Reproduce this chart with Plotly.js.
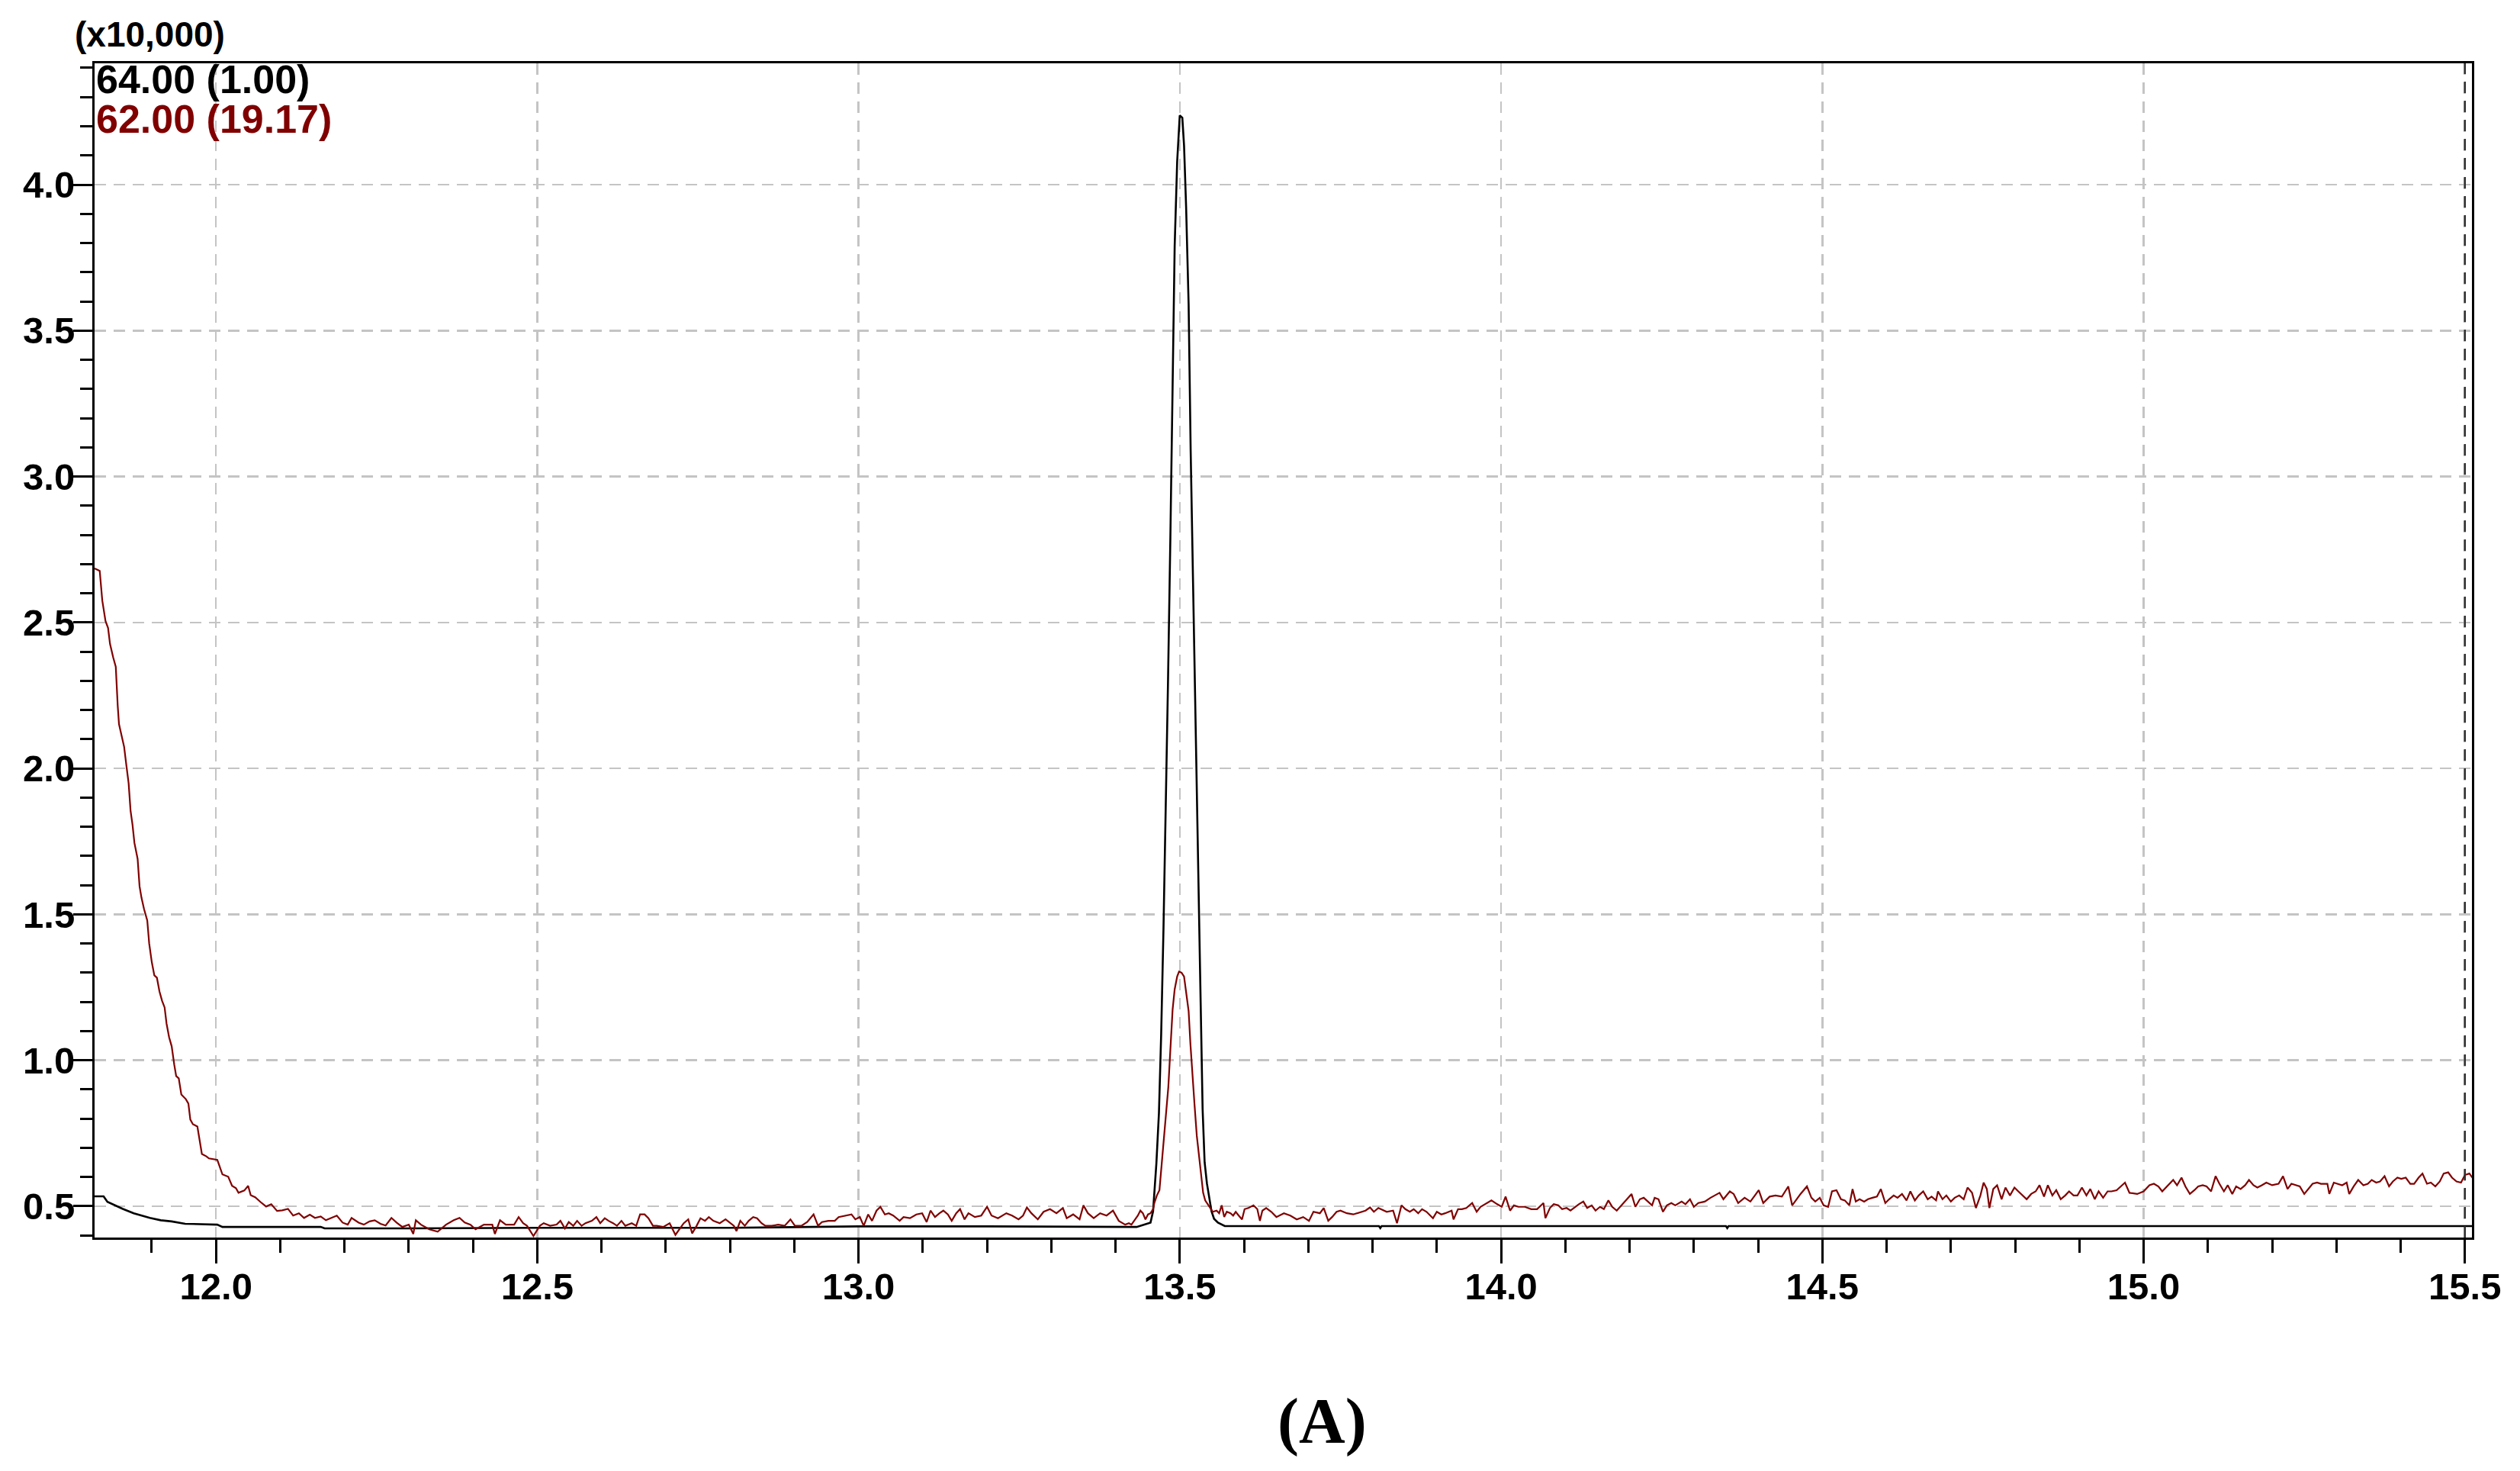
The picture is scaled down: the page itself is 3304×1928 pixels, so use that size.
<!DOCTYPE html>
<html>
<head>
<meta charset="utf-8">
<script src="https://cdn.plot.ly/plotly-3.0.1.min.js"></script>
<style>
  html, body { margin: 0; padding: 0; background: #fff; }
  #chart { width: 3304px; height: 1928px; }
</style>
</head>
<body>
<div id="chart"></div>
<script>
// retention time (min) and intensity (x10,000)
const t64 = [11.811, 11.825, 11.831, 11.843, 11.855, 11.872, 11.885, 11.897, 11.914, 11.931, 11.952, 12.002, 12.010,
	12.163, 12.169, 12.300, 12.500, 12.800, 13.000, 13.200, 13.4327, 13.4544, 13.4584, 13.4603, 13.4635, 13.4675,
	13.4710, 13.4746, 13.4782, 13.4817, 13.4853, 13.4888, 13.4920, 13.4959, 13.4999, 13.5039, 13.5066, 13.5098,
	13.5137, 13.5169, 13.5205, 13.5244, 13.5276, 13.5315, 13.5355, 13.5386, 13.5422, 13.5462, 13.5493, 13.5533,
	13.5593, 13.5700, 13.8100, 13.8120, 13.8140, 14.3500, 14.3520, 14.3540, 15.5110];
const y64 = [0.534, 0.534, 0.515, 0.502, 0.491, 0.476, 0.468, 0.460, 0.452, 0.448, 0.440, 0.437, 0.429,
	0.429, 0.424, 0.424, 0.426, 0.426, 0.431, 0.431, 0.429, 0.444, 0.483, 0.548, 0.646, 0.819,
	1.090, 1.452, 1.852, 2.305, 2.790, 3.364, 3.790, 4.079, 4.237, 4.229, 4.134, 3.924,
	3.591, 3.087, 2.671, 2.227, 1.783, 1.310, 0.832, 0.651, 0.578, 0.522, 0.483, 0.457,
	0.444, 0.432, 0.432, 0.425, 0.432, 0.432, 0.425, 0.432, 0.432];

const t62 = [
	11.811, 11.819, 11.823, 11.828, 11.832, 11.835, 11.840, 11.844, 11.847, 11.849, 11.853, 11.857, 11.860, 11.864,
	11.867, 11.870, 11.873, 11.878, 11.881, 11.884, 11.888, 11.893, 11.896, 11.900, 11.904, 11.908, 11.912, 11.916,
	11.920, 11.923, 11.927, 11.931, 11.935, 11.938, 11.942, 11.946, 11.953, 11.957, 11.960, 11.964, 11.971, 11.975,
	11.978, 11.985, 11.989, 12.002, 12.006, 12.010, 12.019, 12.025, 12.031, 12.035, 12.044, 12.050, 12.054, 12.061,
	12.069, 12.078, 12.086, 12.095, 12.103, 12.112, 12.120, 12.129, 12.137, 12.146, 12.154, 12.163, 12.171, 12.180,
	12.188, 12.197, 12.205, 12.211, 12.222, 12.230, 12.239, 12.247, 12.256, 12.264, 12.273, 12.281, 12.290, 12.300,
	12.307, 12.311, 12.319, 12.332, 12.345, 12.358, 12.370, 12.379, 12.387, 12.396, 12.404, 12.417, 12.430, 12.434,
	12.442, 12.451, 12.464,
	12.471, 12.478, 12.484, 12.494, 12.504, 12.510, 12.520, 12.530, 12.536, 12.543, 12.549, 12.556, 12.562, 12.569,
	12.575, 12.585, 12.592, 12.598, 12.605, 12.611, 12.618, 12.624, 12.631, 12.637, 12.647, 12.654, 12.660, 12.667,
	12.673, 12.680, 12.686, 12.696, 12.706, 12.715, 12.722, 12.728, 12.735, 12.741, 12.748, 12.754, 12.761, 12.767,
	12.774, 12.784, 12.793, 12.800, 12.806, 12.810, 12.816, 12.823, 12.829, 12.836, 12.842, 12.849, 12.855, 12.865,
	12.875, 12.885, 12.894, 12.901, 12.911, 12.920, 12.930, 12.937, 12.943, 12.953, 12.963, 12.969, 12.979, 12.989,
	12.995, 13.002, 13.008, 13.015, 13.021, 13.028, 13.034, 13.041, 13.047, 13.054, 13.064, 13.070, 13.080, 13.090,
	13.099, 13.106, 13.112, 13.119, 13.126, 13.132, 13.139, 13.145, 13.152, 13.158, 13.165, 13.171, 13.181, 13.191,
	13.200, 13.207, 13.217, 13.230, 13.239, 13.249, 13.256, 13.262, 13.269, 13.279, 13.288, 13.298, 13.308, 13.318,
	13.324, 13.334, 13.344, 13.350, 13.357, 13.366, 13.376, 13.386, 13.396, 13.405, 13.415,
	13.4208, 13.4247, 13.4287, 13.4347, 13.4386, 13.4425, 13.4465, 13.4505, 13.4544, 13.4584, 13.4603, 13.4643,
	13.4683, 13.4710, 13.4742, 13.4782, 13.4821, 13.4849, 13.4888, 13.4920, 13.4959, 13.4988, 13.5027, 13.5066,
	13.5098, 13.5137, 13.5165, 13.5197, 13.5228, 13.5264, 13.5296, 13.5335, 13.5363, 13.5395, 13.5434, 13.5466,
	13.5513, 13.5573, 13.5612, 13.5652, 13.5691, 13.5731, 13.5790, 13.5830, 13.5870, 13.5917, 13.5968, 13.6008,
	13.6067, 13.6146, 13.6206, 13.6246, 13.6285, 13.6344, 13.6424, 13.6503, 13.6582,
	13.662, 13.672, 13.682, 13.692, 13.701, 13.708, 13.718, 13.724, 13.731, 13.737, 13.744, 13.750, 13.760, 13.770,
	13.780, 13.789, 13.796, 13.802, 13.809, 13.815, 13.822, 13.832, 13.838, 13.845, 13.851, 13.858, 13.864, 13.871,
	13.877, 13.884, 13.894, 13.900, 13.907, 13.913, 13.923, 13.926, 13.933, 13.939, 13.946, 13.955, 13.962, 13.968,
	13.975, 13.985, 13.994, 14.001, 14.007, 14.014, 14.020, 14.027, 14.037, 14.047, 14.056, 14.066, 14.069, 14.076,
	14.082, 14.089, 14.095, 14.102, 14.108, 14.115, 14.121, 14.128, 14.134, 14.141, 14.147, 14.154, 14.160, 14.167,
	14.173, 14.180, 14.187, 14.193, 14.203, 14.209, 14.216, 14.222, 14.229, 14.235, 14.239, 14.245, 14.252, 14.258,
	14.265, 14.271, 14.281, 14.287, 14.294, 14.300, 14.307, 14.317, 14.326, 14.333, 14.340, 14.346, 14.356, 14.362,
	14.369, 14.379, 14.388, 14.395, 14.401, 14.408, 14.418, 14.427, 14.437, 14.447, 14.453, 14.460, 14.466, 14.476,
	14.483,
	14.489, 14.496, 14.502, 14.509, 14.515, 14.522, 14.529, 14.535, 14.542, 14.547, 14.552, 14.558, 14.565, 14.571,
	14.578, 14.585, 14.591, 14.598, 14.604, 14.611, 14.617, 14.624, 14.631, 14.637, 14.644, 14.650, 14.657, 14.664,
	14.670, 14.677, 14.680, 14.687, 14.693, 14.700, 14.706, 14.713, 14.720, 14.726, 14.733, 14.739, 14.746, 14.751,
	14.756, 14.760, 14.766, 14.772, 14.779, 14.785, 14.792, 14.799, 14.805, 14.812, 14.818, 14.825, 14.832, 14.838,
	14.845, 14.851, 14.858, 14.864, 14.871, 14.878, 14.884, 14.891, 14.897, 14.904, 14.911, 14.917, 14.924, 14.930,
	14.937, 14.944, 14.950, 14.958, 14.965, 14.971, 14.978, 14.990, 15.000, 15.009, 15.016, 15.023, 15.029, 15.036,
	15.046, 15.052, 15.059, 15.065, 15.072, 15.079, 15.085, 15.092, 15.098, 15.105, 15.112, 15.118, 15.125, 15.131,
	15.138, 15.144, 15.151, 15.158, 15.164, 15.171, 15.177, 15.184, 15.191, 15.200, 15.210, 15.217, 15.224, 15.230,
	15.237, 15.243, 15.250, 15.256, 15.263, 15.270, 15.276, 15.286, 15.289, 15.296, 15.303, 15.309, 15.316, 15.320,
	15.327, 15.334, 15.342, 15.349, 15.355, 15.362, 15.368, 15.375, 15.382, 15.388, 15.395, 15.401, 15.408, 15.415,
	15.421, 15.428, 15.434, 15.441, 15.447, 15.454, 15.461, 15.467, 15.474, 15.480, 15.487, 15.494, 15.500, 15.507,
	15.513];
const y62 = [
	2.685, 2.677, 2.575, 2.505, 2.481, 2.427, 2.380, 2.348, 2.215, 2.152, 2.113, 2.074, 2.019, 1.949,
	1.855, 1.808, 1.745, 1.690, 1.596, 1.557, 1.518, 1.479, 1.400, 1.337, 1.291, 1.283, 1.236, 1.204,
	1.181, 1.126, 1.079, 1.048, 0.985, 0.946, 0.938, 0.883, 0.867, 0.852, 0.797, 0.781, 0.773, 0.719,
	0.679, 0.671, 0.664, 0.659, 0.633, 0.609, 0.601, 0.570, 0.562, 0.546, 0.554, 0.570, 0.538, 0.531,
	0.515, 0.499, 0.507, 0.484, 0.486, 0.491, 0.468, 0.476, 0.460, 0.471, 0.460, 0.465, 0.452, 0.460,
	0.468, 0.444, 0.437, 0.460, 0.444, 0.437, 0.448, 0.452, 0.440, 0.434, 0.460, 0.444, 0.429, 0.437,
	0.405, 0.452, 0.437, 0.421, 0.413, 0.437, 0.452, 0.460, 0.444, 0.437, 0.421, 0.437, 0.437, 0.405,
	0.452, 0.437, 0.437,
	0.463, 0.442, 0.433, 0.398, 0.433, 0.442, 0.433, 0.437, 0.450, 0.424, 0.446, 0.433, 0.450, 0.433,
	0.442, 0.450, 0.463, 0.442, 0.459, 0.450, 0.442, 0.433, 0.450, 0.433, 0.442, 0.433, 0.472, 0.472,
	0.459, 0.433, 0.433, 0.429, 0.442, 0.402, 0.424, 0.442, 0.455, 0.407, 0.433, 0.459, 0.450, 0.463,
	0.450, 0.442, 0.455, 0.442, 0.433, 0.415, 0.450, 0.433, 0.450, 0.463, 0.459, 0.442, 0.433, 0.433,
	0.437, 0.433, 0.455, 0.433, 0.433, 0.446, 0.472, 0.433, 0.446, 0.450, 0.450, 0.463, 0.468, 0.472,
	0.455, 0.463, 0.433, 0.472, 0.450, 0.485, 0.498, 0.472, 0.476, 0.468, 0.450, 0.463, 0.459, 0.472,
	0.476, 0.446, 0.485, 0.463, 0.476, 0.485, 0.472, 0.450, 0.476, 0.490, 0.455, 0.476, 0.463, 0.468,
	0.498, 0.468, 0.459, 0.476, 0.468, 0.455, 0.468, 0.496, 0.476, 0.455, 0.481, 0.490, 0.476, 0.494,
	0.459, 0.472, 0.455, 0.503, 0.476, 0.459, 0.476, 0.468, 0.485, 0.450, 0.437,
	0.442, 0.437, 0.450, 0.468, 0.485, 0.476, 0.455, 0.472, 0.476, 0.490, 0.511, 0.537,
	0.555, 0.625, 0.703, 0.821, 0.908, 1.021, 1.174, 1.243, 1.287, 1.304, 1.300, 1.287,
	1.239, 1.169, 1.056, 0.964, 0.851, 0.742, 0.681, 0.599, 0.546, 0.520, 0.507, 0.494,
	0.481, 0.485, 0.476, 0.503, 0.463, 0.481, 0.476, 0.468, 0.481, 0.468, 0.455, 0.490,
	0.494, 0.503, 0.490, 0.450, 0.485, 0.494, 0.481, 0.463, 0.472,
	0.476, 0.468, 0.455, 0.463, 0.450, 0.481, 0.476, 0.494, 0.450, 0.463, 0.481, 0.485, 0.476, 0.472,
	0.478, 0.485, 0.496, 0.481, 0.494, 0.487, 0.481, 0.485, 0.442, 0.503, 0.490, 0.481, 0.490, 0.476,
	0.490, 0.481, 0.459, 0.481, 0.472, 0.476, 0.485, 0.455, 0.490, 0.490, 0.494, 0.511, 0.481, 0.498,
	0.507, 0.520, 0.507, 0.498, 0.533, 0.485, 0.503, 0.498, 0.498, 0.490, 0.490, 0.511, 0.459, 0.494,
	0.507, 0.503, 0.490, 0.494, 0.485, 0.498, 0.507, 0.516, 0.494, 0.503, 0.485, 0.498, 0.490, 0.520,
	0.498, 0.485, 0.503, 0.516, 0.542, 0.498, 0.524, 0.529, 0.516, 0.503, 0.529, 0.524, 0.481, 0.503,
	0.511, 0.503, 0.516, 0.507, 0.524, 0.498, 0.511, 0.516, 0.529, 0.537, 0.546, 0.524, 0.551, 0.542,
	0.511, 0.529, 0.516, 0.537, 0.555, 0.511, 0.533, 0.537, 0.533, 0.568, 0.503, 0.524, 0.542, 0.568,
	0.529,
	0.516, 0.529, 0.503, 0.498, 0.551, 0.555, 0.524, 0.520, 0.503, 0.559, 0.516, 0.524, 0.516, 0.524,
	0.529, 0.533, 0.559, 0.511, 0.524, 0.537, 0.529, 0.542, 0.520, 0.551, 0.520, 0.537, 0.551, 0.524,
	0.533, 0.520, 0.551, 0.524, 0.537, 0.516, 0.529, 0.537, 0.524, 0.564, 0.546, 0.494, 0.537, 0.581,
	0.559, 0.494, 0.559, 0.572, 0.524, 0.564, 0.537, 0.564, 0.551, 0.537, 0.524, 0.542, 0.551, 0.572,
	0.533, 0.572, 0.537, 0.555, 0.524, 0.537, 0.551, 0.537, 0.537, 0.564, 0.537, 0.559, 0.524, 0.551,
	0.529, 0.551, 0.551, 0.555, 0.568, 0.581, 0.546, 0.542, 0.551, 0.572, 0.577, 0.568, 0.551, 0.568,
	0.590, 0.572, 0.598, 0.568, 0.542, 0.555, 0.568, 0.572, 0.568, 0.551, 0.603, 0.577, 0.551, 0.572,
	0.542, 0.568, 0.559, 0.572, 0.590, 0.572, 0.564, 0.572, 0.581, 0.572, 0.577, 0.603, 0.559, 0.577,
	0.572, 0.568, 0.542, 0.559, 0.577, 0.581, 0.577, 0.577, 0.542, 0.581, 0.577, 0.572, 0.581, 0.542,
	0.568, 0.590, 0.572, 0.577, 0.590, 0.581, 0.585, 0.603, 0.568, 0.585, 0.598, 0.594, 0.598, 0.577,
	0.577, 0.598, 0.612, 0.577, 0.581, 0.568, 0.585, 0.612, 0.616, 0.598, 0.585, 0.581, 0.607, 0.612,
	0.594];

const xTicks = [12.0, 12.5, 13.0, 13.5, 14.0, 14.5, 15.0, 15.5];
const xTickText = ['12.0', '12.5', '13.0', '13.5', '14.0', '14.5', '15.0', '15.5'];
const yTicks = [0.5, 1.0, 1.5, 2.0, 2.5, 3.0, 3.5, 4.0];
const yTickText = ['0.5', '1.0', '1.5', '2.0', '2.5', '3.0', '3.5', '4.0'];

const scaleLabel = '(x10,000)';
const ion64Label = '64.00 (1.00)';
const ion62Label = '62.00 (19.17)';
const panelLabel = '(A)';

const black = '#000000';
const darkRed = '#800000';
const labelFont = 'Liberation Sans, Arial, sans-serif';

const tickFont = { family: labelFont, size: 49, weight: 'bold', color: black };

const traces = [
	{ x: t64, y: y64, type: 'scatter', mode: 'lines', line: { color: black, width: 2.6 }, hoverinfo: 'skip' },
	{ x: t62, y: y62, type: 'scatter', mode: 'lines', line: { color: darkRed, width: 2.2 }, hoverinfo: 'skip' }
];

const layout = {
	width: 3304,
	height: 1928,
	margin: { l: 124, r: 63, t: 83, b: 306 },
	paper_bgcolor: '#ffffff',
	plot_bgcolor: '#ffffff',
	showlegend: false,
	xaxis: {
		range: [11.811, 15.511],
		tickmode: 'array',
		tickvals: xTicks,
		ticktext: xTickText,
		ticks: 'outside',
		ticklen: 31,
		tickwidth: 3,
		tickcolor: black,
		tickfont: tickFont,
		ticklabelstandoff: -12,
		showline: true,
		linewidth: 3,
		linecolor: black,
		mirror: true,
		showgrid: true,
		gridcolor: '#c4c4c4',
		gridwidth: 2.5,
		griddash: '15px,10px',
		zeroline: false,
		minor: { dtick: 0.1, tick0: 0, ticks: 'outside', ticklen: 17, tickwidth: 3, tickcolor: black, showgrid: false }
	},
	yaxis: {
		range: [0.3928, 4.4156],
		tickmode: 'array',
		tickvals: yTicks,
		ticktext: yTickText,
		ticks: 'outside',
		ticklen: 25,
		tickwidth: 3,
		tickcolor: black,
		tickfont: tickFont,
		ticklabelstandoff: -12,
		showline: true,
		linewidth: 3,
		linecolor: black,
		mirror: true,
		showgrid: true,
		gridcolor: '#c4c4c4',
		gridwidth: 2.5,
		griddash: '15px,10px',
		zeroline: false,
		minor: { dtick: 0.1, tick0: 0, ticks: 'outside', ticklen: 16, tickwidth: 3, tickcolor: black, showgrid: false }
	},
	shapes: [
		{ type: 'line', xref: 'x', yref: 'paper', x0: xTicks[xTicks.length - 1], x1: xTicks[xTicks.length - 1], y0: 0, y1: 1,
			line: { color: '#303030', width: 2.5, dash: '15px,10px' } }
	],
	annotations: [
		{ text: scaleLabel, xref: 'paper', yref: 'paper', x: -0.009, y: 1.0247, xanchor: 'left', yanchor: 'middle',
			showarrow: false, font: { family: labelFont, size: 46, weight: 'bold', color: black } },
		{ text: ion64Label, xref: 'paper', yref: 'paper', x: 0, y: 0.9864, xanchor: 'left', yanchor: 'middle',
			showarrow: false, font: { family: labelFont, size: 52, weight: 'bold', color: black } },
		{ text: ion62Label, xref: 'paper', yref: 'paper', x: 0, y: 0.9526, xanchor: 'left', yanchor: 'middle',
			showarrow: false, font: { family: labelFont, size: 52, weight: 'bold', color: darkRed } },
		{ text: panelLabel, xref: 'paper', yref: 'paper', x: 0.5165, y: -0.1566, xanchor: 'center', yanchor: 'middle',
			showarrow: false, font: { family: 'Liberation Serif, Times New Roman, serif', size: 84, weight: 'bold', color: black } }
	]
};

Plotly.newPlot('chart', traces, layout, { displayModeBar: false, staticPlot: true });
</script>
</body>
</html>
